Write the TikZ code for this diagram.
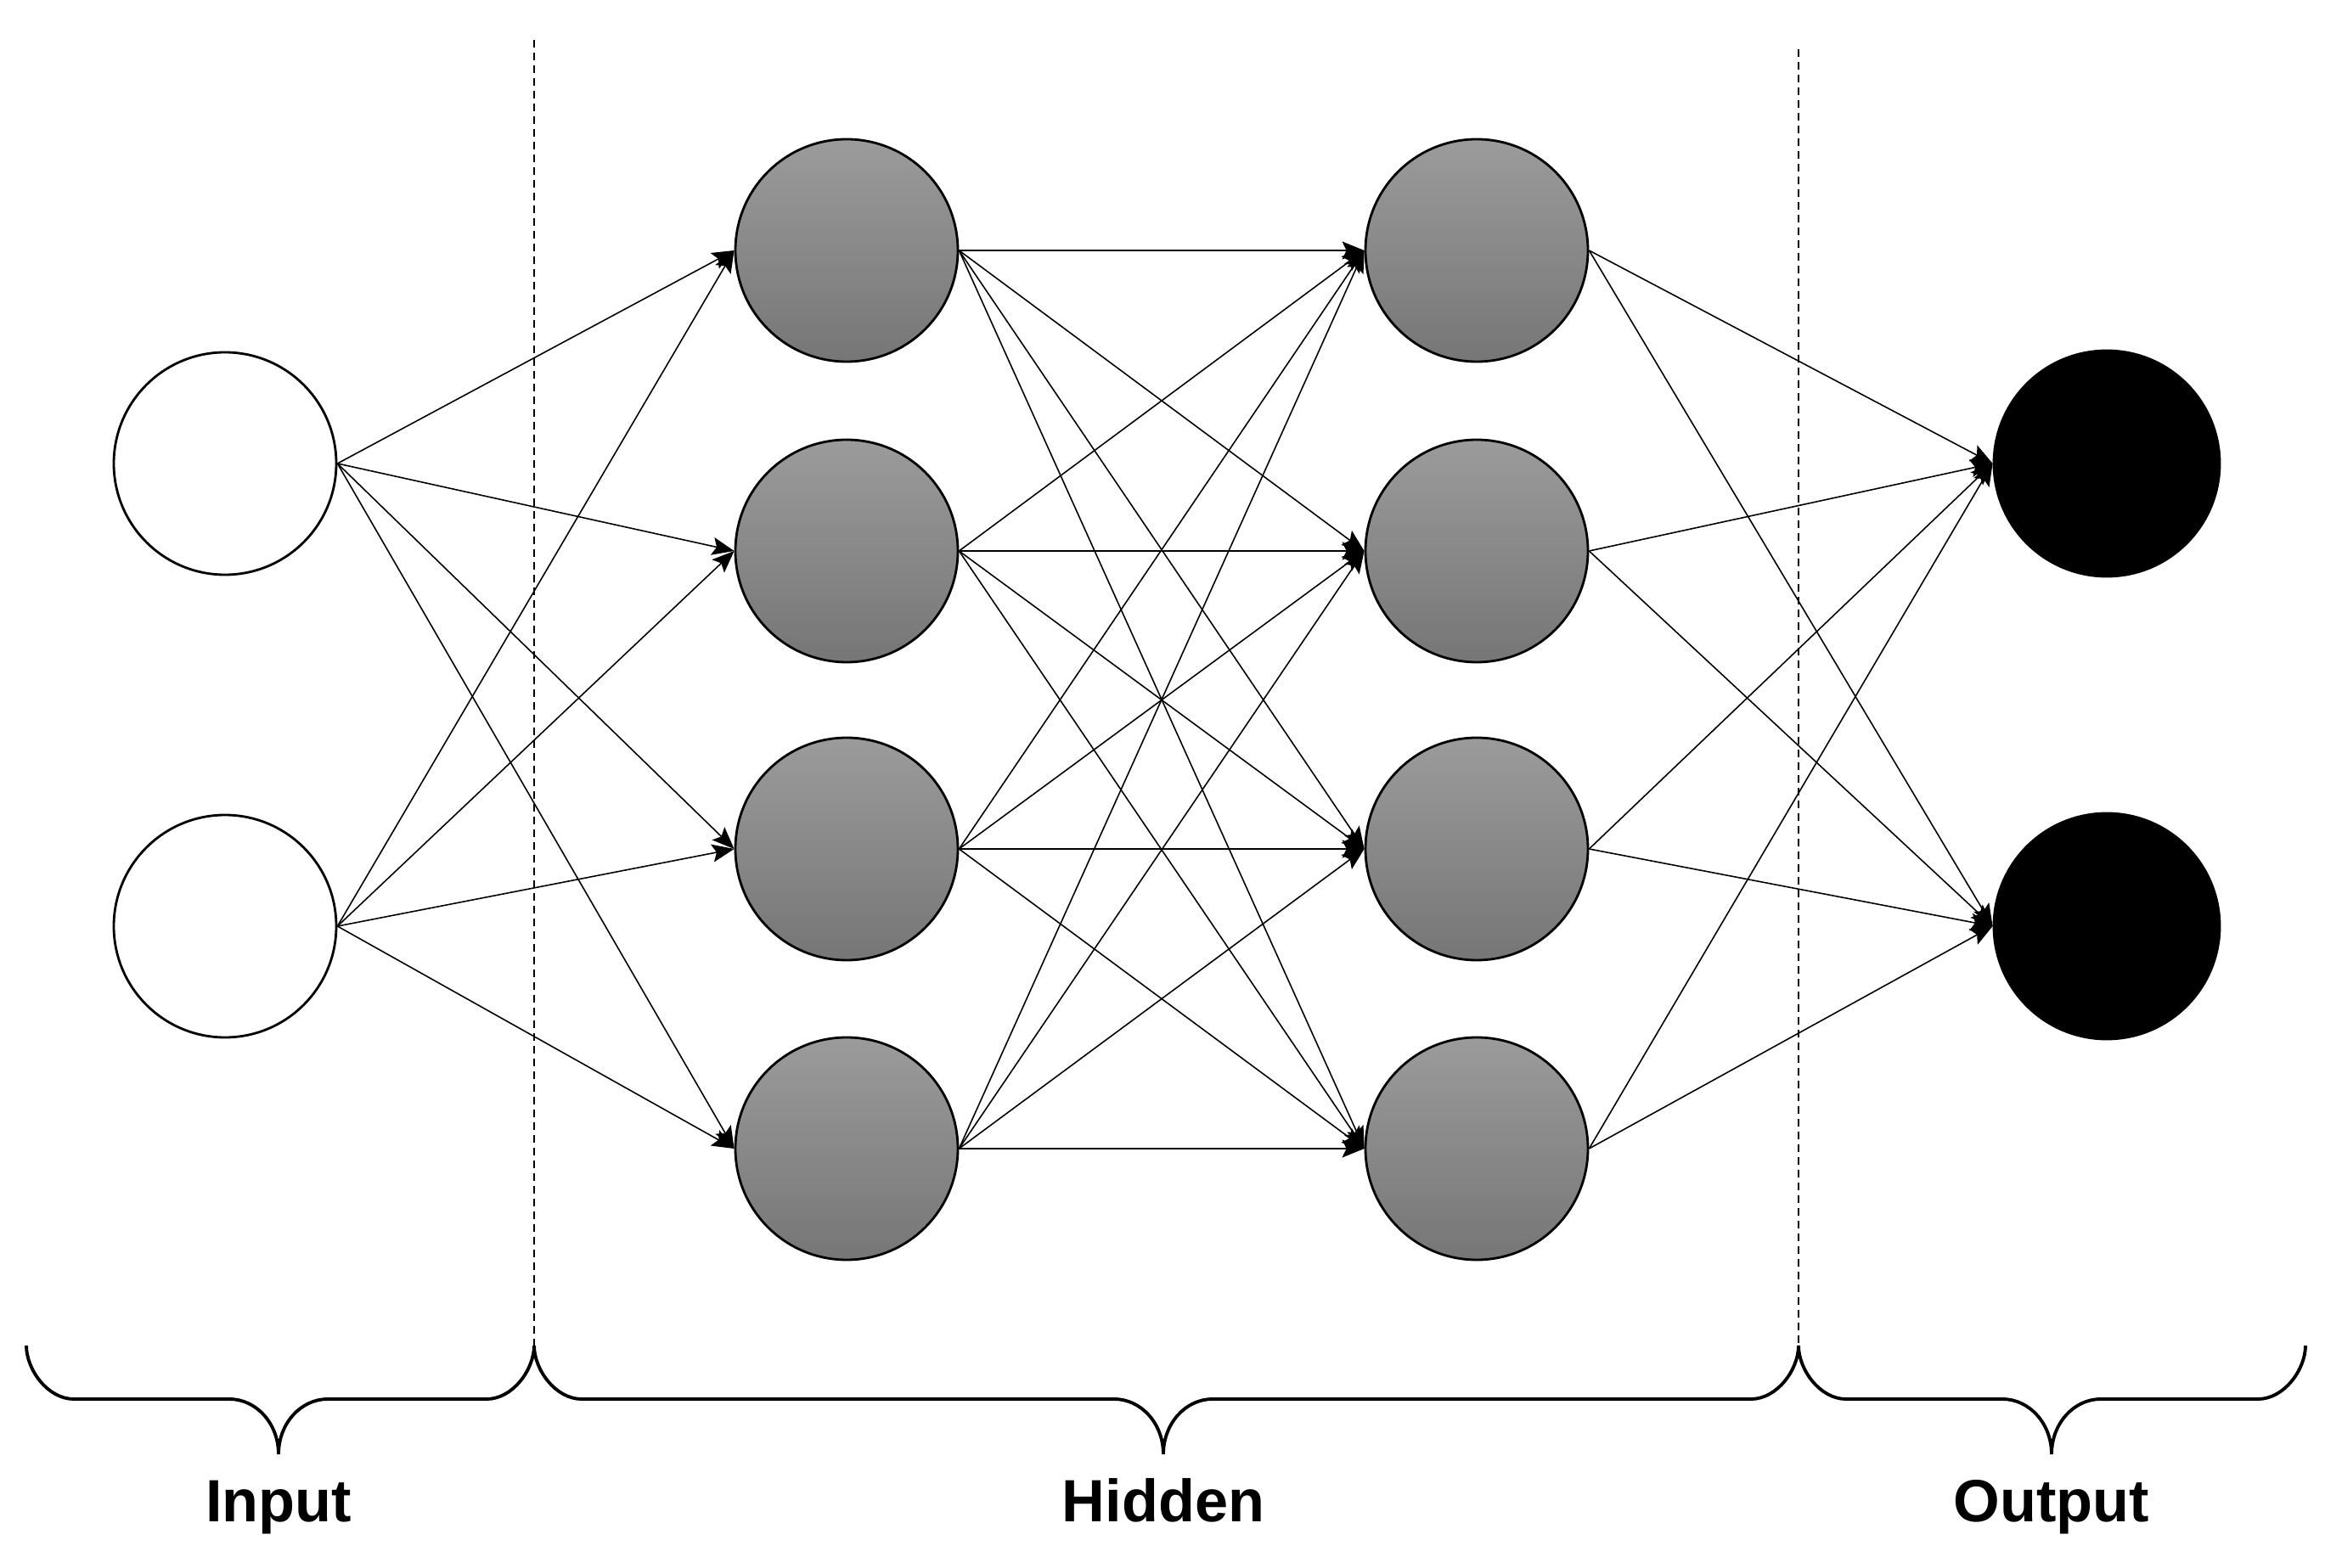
\documentclass[tikz,border=0pt]{standalone}
\usepackage{fontspec}
\setmainfont{Liberation Sans}
\usetikzlibrary{arrows.meta}
\usetikzlibrary{positioning}
\definecolor{hidtop}{RGB}{155,155,155}
\definecolor{hidbot}{RGB}{118,118,118}

\begin{document}
\begin{tikzpicture}[
  neuron/.style={circle,draw=black,line width=0.8pt,minimum size=2.62cm,inner sep=0pt},
  innode/.style={neuron,fill=white},
  hidnode/.style={neuron,top color=hidtop,bottom color=hidbot},
  outnode/.style={neuron,fill=black,minimum size=2.66cm},
  conn/.style={-{Stealth[length=0.26cm,width=0.21cm,inset=0.05cm]},line width=0.45pt},
  sep/.style={dash pattern=on 0.09cm off 0.06cm,line width=0.6pt},
  brace/.style={line width=1.1pt},
  lbl/.style={font=\bfseries\fontsize{20}{24}\selectfont,anchor=base}
]
\useasboundingbox (0,0) rectangle (27.38,18.46);

% layers
\node[innode] (I1) at (2.65,13.0) {};
\node[innode] (I2) at (2.65,7.55) {};

\node[hidnode] (HA1) at (9.97,15.51) {};
\node[hidnode] (HA2) at (9.97,11.97) {};
\node[hidnode] (HA3) at (9.97,8.46) {};
\node[hidnode] (HA4) at (9.97,4.93) {};

\node[hidnode] (HB1) at (17.39,15.51) {};
\node[hidnode] (HB2) at (17.39,11.97) {};
\node[hidnode] (HB3) at (17.39,8.46) {};
\node[hidnode] (HB4) at (17.39,4.93) {};

\node[outnode] (O1) at (24.81,13.0) {};
\node[outnode] (O2) at (24.81,7.55) {};

% input -> hidden
\draw[conn] (I1.east) -- (HA1.west);
\draw[conn] (I1.east) -- (HA2.west);
\draw[conn] (I1.east) -- (HA3.west);
\draw[conn] (I1.east) -- (HA4.west);
\draw[conn] (I2.east) -- (HA1.west);
\draw[conn] (I2.east) -- (HA2.west);
\draw[conn] (I2.east) -- (HA3.west);
\draw[conn] (I2.east) -- (HA4.west);

% hidden -> hidden
\draw[conn] (HA1.east) -- (HB1.west);
\draw[conn] (HA1.east) -- (HB2.west);
\draw[conn] (HA1.east) -- (HB3.west);
\draw[conn] (HA1.east) -- (HB4.west);
\draw[conn] (HA2.east) -- (HB1.west);
\draw[conn] (HA2.east) -- (HB2.west);
\draw[conn] (HA2.east) -- (HB3.west);
\draw[conn] (HA2.east) -- (HB4.west);
\draw[conn] (HA3.east) -- (HB1.west);
\draw[conn] (HA3.east) -- (HB2.west);
\draw[conn] (HA3.east) -- (HB3.west);
\draw[conn] (HA3.east) -- (HB4.west);
\draw[conn] (HA4.east) -- (HB1.west);
\draw[conn] (HA4.east) -- (HB2.west);
\draw[conn] (HA4.east) -- (HB3.west);
\draw[conn] (HA4.east) -- (HB4.west);

% hidden -> output
\draw[conn] (HB1.east) -- (O1.west);
\draw[conn] (HB1.east) -- (O2.west);
\draw[conn] (HB2.east) -- (O1.west);
\draw[conn] (HB2.east) -- (O2.west);
\draw[conn] (HB3.east) -- (O1.west);
\draw[conn] (HB3.east) -- (O2.west);
\draw[conn] (HB4.east) -- (O1.west);
\draw[conn] (HB4.east) -- (O2.west);

% separators
\draw[sep] (6.29,17.99) -- (6.29,2.61);
\draw[sep] (21.18,17.88) -- (21.18,2.61);

% braces
\draw[brace] (0.31,2.61) .. controls (0.31,2.33) and (0.56,1.98) .. (0.87,1.98) -- (2.70,1.98)
  .. controls (3.02,1.98) and (3.28,1.69) .. (3.28,1.33)
  .. controls (3.28,1.69) and (3.54,1.98) .. (3.86,1.98) -- (5.73,1.98)
  .. controls (6.04,1.98) and (6.29,2.33) .. (6.29,2.61);
\draw[brace] (6.29,2.61) .. controls (6.29,2.33) and (6.54,1.98) .. (6.85,1.98) -- (13.12,1.98)
  .. controls (13.44,1.98) and (13.70,1.69) .. (13.70,1.33)
  .. controls (13.70,1.69) and (13.96,1.98) .. (14.28,1.98) -- (20.62,1.98)
  .. controls (20.93,1.98) and (21.18,2.33) .. (21.18,2.61);
\draw[brace] (21.18,2.61) .. controls (21.18,2.33) and (21.43,1.98) .. (21.74,1.98) -- (23.58,1.98)
  .. controls (23.90,1.98) and (24.16,1.69) .. (24.16,1.33)
  .. controls (24.16,1.69) and (24.42,1.98) .. (24.74,1.98) -- (26.59,1.98)
  .. controls (26.90,1.98) and (27.15,2.33) .. (27.15,2.61);

% labels
\node[lbl] (LIn) at (3.28,0.54) {Input};
\node[lbl] (LHid) at (13.70,0.54) {Hidden};
\node[lbl] (LOut) at (24.16,0.54) {Output};

\end{tikzpicture}
\end{document}
